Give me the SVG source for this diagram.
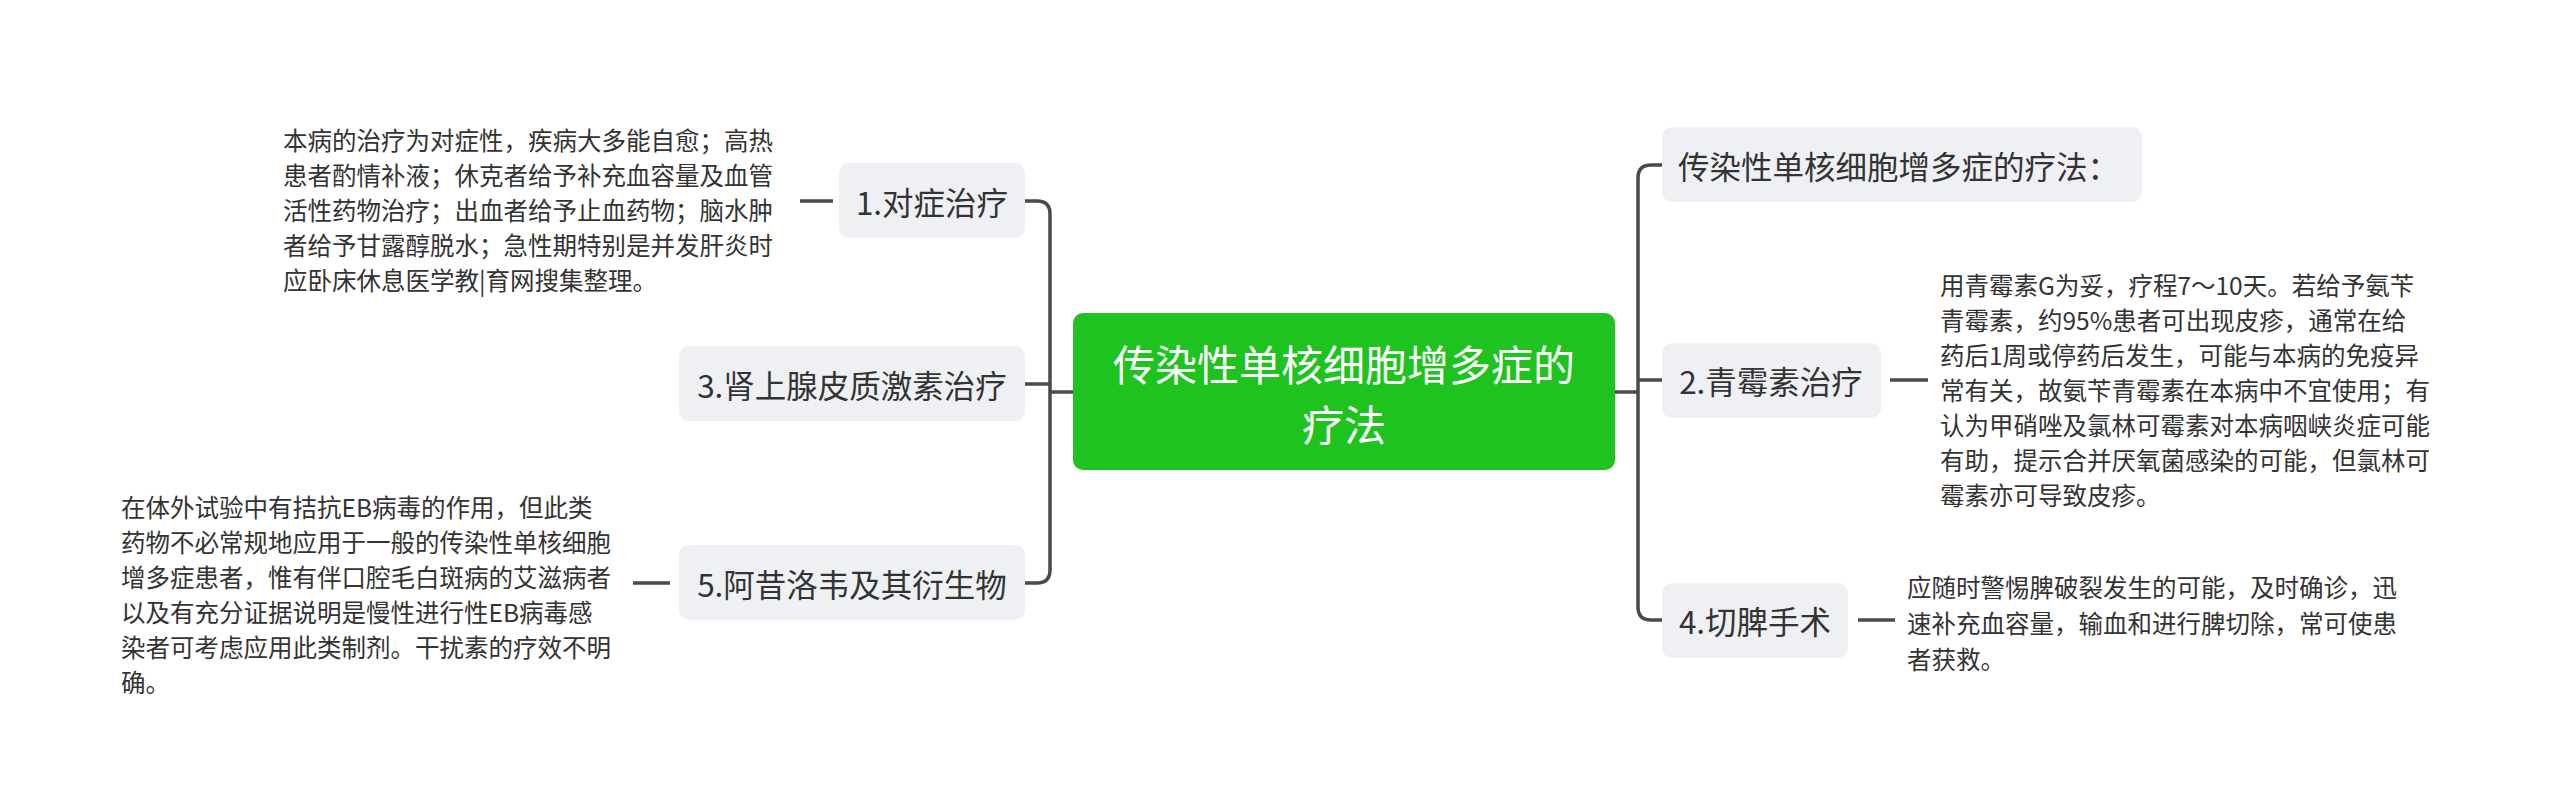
<svg xmlns="http://www.w3.org/2000/svg" width="2560" height="800" viewBox="0 0 2560 800">
<style>
text{font-family:"Noto Sans CJK SC","Noto Sans",sans-serif;fill:#333}
.box{fill:#eef0f3}
.n{font-size:31.5px;dominant-baseline:central}
.d{font-size:24.5px;dominant-baseline:central}
.c{fill:none;stroke:#4a4a4a;stroke-width:3.5}
</style>
<rect width="2560" height="800" fill="#fff"/>
<g id="connectors">
<path class="c" d="M1073 392H1050M1025 201H1037Q1050 201 1050 214V570Q1050 583 1037 583H1025M1025 384H1050"/>
<path class="c" d="M1615 392H1638M1662 165H1651Q1638 165 1638 178V607Q1638 620 1651 620H1662M1662 380H1638"/>
<path class="c" d="M800 201H833M633 583H670M1890 380H1928M1858 620H1895"/>
</g>
<g id="center"><rect x="1073" y="313" width="542" height="157" rx="10" fill="#1fc31f"/>
<text x="1344" y="362" text-anchor="middle" style="font-size:42px;fill:#fff;dominant-baseline:central">传染性单核细胞增多症的</text>
<text x="1344" y="422" text-anchor="middle" style="font-size:42px;fill:#fff;dominant-baseline:central">疗法</text></g>
<g id="n1"><rect class="box" x="839" y="163" width="186" height="75" rx="10"/><text class="n" x="932" y="201" text-anchor="middle">1.对症治疗</text></g>
<g id="n3"><rect class="box" x="679" y="346" width="346" height="75" rx="10"/><text class="n" x="852" y="384" text-anchor="middle">3.肾上腺皮质激素治疗</text></g>
<g id="n5"><rect class="box" x="679" y="545" width="346" height="75" rx="10"/><text class="n" x="852" y="583" text-anchor="middle">5.阿昔洛韦及其衍生物</text></g>
<g id="n0"><rect class="box" x="1662" y="127" width="480" height="75" rx="10"/><text class="n" x="1678" y="165">传染性单核细胞增多症的疗法：</text></g>
<g id="n2"><rect class="box" x="1662" y="343" width="219" height="75" rx="10"/><text class="n" x="1771" y="380" text-anchor="middle">2.青霉素治疗</text></g>
<g id="n4"><rect class="box" x="1662" y="583" width="186" height="75" rx="10"/><text class="n" x="1755" y="620" text-anchor="middle">4.切脾手术</text></g>
<g id="t1"><text class="d" x="283" y="139">本病的治疗为对症性，疾病大多能自愈；高热</text><text class="d" x="283" y="174">患者酌情补液；休克者给予补充血容量及血管</text><text class="d" x="283" y="209">活性药物治疗；出血者给予止血药物；脑水肿</text><text class="d" x="283" y="244">者给予甘露醇脱水；急性期特别是并发肝炎时</text><text class="d" x="283" y="279">应卧床休息医学教|育网搜集整理。</text></g>
<g id="t5"><text class="d" x="121" y="506">在体外试验中有拮抗EB病毒的作用，但此类</text><text class="d" x="121" y="541">药物不必常规地应用于一般的传染性单核细胞</text><text class="d" x="121" y="576">增多症患者，惟有伴口腔毛白斑病的艾滋病者</text><text class="d" x="121" y="611">以及有充分证据说明是慢性进行性EB病毒感</text><text class="d" x="121" y="646">染者可考虑应用此类制剂。干扰素的疗效不明</text><text class="d" x="121" y="681">确。</text></g>
<g id="t2"><text class="d" x="1940" y="284">用青霉素G为妥，疗程7～10天。若给予氨苄</text><text class="d" x="1940" y="319">青霉素，约95%患者可出现皮疹，通常在给</text><text class="d" x="1940" y="354">药后1周或停药后发生，可能与本病的免疫异</text><text class="d" x="1940" y="389">常有关，故氨苄青霉素在本病中不宜使用；有</text><text class="d" x="1940" y="424">认为甲硝唑及氯林可霉素对本病咽峡炎症可能</text><text class="d" x="1940" y="459">有助，提示合并厌氧菌感染的可能，但氯林可</text><text class="d" x="1940" y="494">霉素亦可导致皮疹。</text></g>
<g id="t4"><text class="d" x="1907" y="586">应随时警惕脾破裂发生的可能，及时确诊，迅</text><text class="d" x="1907" y="622">速补充血容量，输血和进行脾切除，常可使患</text><text class="d" x="1907" y="658">者获救。</text></g>
</svg>
